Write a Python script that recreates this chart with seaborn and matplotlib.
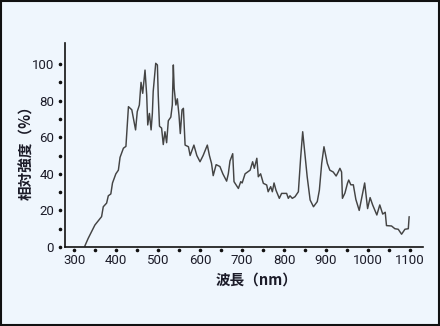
import matplotlib
matplotlib.use("Agg")
import matplotlib.pyplot as plt
import seaborn as sns
import pandas as pd
from matplotlib.patches import Rectangle

wavelength = [325, 333, 349, 365, 369, 377, 381, 387, 391, 399, 405, 409, 417, 423,
              429, 437, 446, 450, 455, 459, 463, 468.5, 472.5, 475, 479, 483, 486,
              488, 490, 494, 498, 500, 503, 508, 512, 516, 520, 524, 530, 533.5,
              536, 538, 542, 545.5, 549.5, 552.6, 556.7, 560, 564, 572, 576, 585,
              592, 599.6, 607, 617, 622, 627, 631, 638, 647, 654, 663, 667, 671,
              677.5, 680.6, 691, 696.6, 700, 707, 719, 725, 729, 735, 738.5, 744,
              750.5, 758.5, 762, 768, 772, 776, 780.7, 788.6, 794, 806, 810, 814,
              819.5, 826, 834, 839.5, 844.3, 850, 855, 862, 870, 879, 884, 889.6,
              895, 903, 909, 917, 924, 929, 933, 937, 939, 945, 951, 954, 959, 965,
              971, 979, 986, 992, 999, 1005, 1011, 1021, 1028, 1035, 1041, 1044,
              1056, 1064, 1072, 1080, 1088, 1096, 1098]
intensity = [0.5, 4.7, 12, 16.6, 22, 24, 28, 29, 35, 40, 42, 49, 54, 55,
             76.7, 75, 64, 74, 77.6, 90, 84, 96.7, 83, 66.7, 73, 64, 73,
             85, 90, 100.4, 99.5, 83, 66, 65, 56, 63, 57, 69, 71, 77.6,
             99.5, 86.7, 77.6, 81, 72, 62, 75, 75.8, 55.7, 54.8, 50, 55.7,
             50, 46.6, 50, 55.7, 50, 45.7, 39, 45, 44, 40, 36, 40, 47,
             51, 35.7, 32, 35.7, 35, 40, 42, 46.6, 43, 48.5, 38.4, 40,
             34.8, 33.9, 30.2, 33, 30.2, 35, 31, 26.6, 29.3, 29.3, 26.6, 28,
             26.6, 27.5, 30.2, 49, 63, 50, 38.4, 25.7, 22, 24.8, 31, 45.7,
             54.8, 45.7, 42, 41, 38.8, 41, 43, 41, 26.6, 29.5, 34.8, 36.6, 34, 34,
             26, 20, 28, 35, 21, 27, 23, 17.5, 23, 18, 19, 11.7,
             11.5, 10, 9.7, 7, 9.7, 10, 16.6]

x_major = [300, 400, 500, 600, 700, 800, 900, 1000, 1100]
x_dots = list(range(300, 1101, 50))
y_major = [0, 20, 40, 60, 80, 100]
y_dots = list(range(0, 101, 10))

sns.set_theme(style="white")
plt.rcParams['font.family'] = ['Roboto', 'Noto Sans CJK JP', 'DejaVu Sans']

bg = "#EFF6FD"
txt = "#1b1b28"
fig = plt.figure(figsize=(4.4, 3.26), dpi=100, facecolor=bg)
ax = fig.add_axes([0.1485, 0.2423, 0.962 - 0.1485, 0.867 - 0.2423])
ax.set_facecolor(bg)

df = pd.DataFrame({"wl": wavelength, "val": intensity})
sns.lineplot(data=df, x="wl", y="val", ax=ax, color="#444444", linewidth=1.05)

ax.set_xlim(278.6, 1131.7)
ax.set_ylim(0, 111.3)

for s in ["top", "right"]:
    ax.spines[s].set_visible(False)
for s in ["left", "bottom"]:
    ax.spines[s].set_color("#111111")
    ax.spines[s].set_linewidth(1.2)

ax.set_xticks(x_major)
ax.set_yticks(y_major)
ax.tick_params(axis="both", length=0, labelsize=9.5, colors=txt)
ax.tick_params(axis="x", pad=5)
ax.tick_params(axis="y", pad=8)

# dotted tick marks
ax.scatter(x_dots, [-0.013] * len(x_dots), s=2.5, color="#111111",
           transform=ax.get_xaxis_transform(), clip_on=False, zorder=5)
ax.scatter([-0.0148] * len(y_dots), y_dots, s=2.5, color="#111111",
           transform=ax.get_yaxis_transform(), clip_on=False, zorder=5)

ax.set_xlabel("波長（nm）", fontsize=10.5, color=txt,
              family=['Noto Sans CJK JP'], fontweight="bold")
ax.set_ylabel("相対強度（%）", fontsize=10.5, color=txt,
              family=['Noto Sans CJK JP'], fontweight="bold")
ax.xaxis.set_label_coords(0.533, -0.12)
ax.yaxis.set_label_coords(-0.087, 0.48)

fig.patches.append(Rectangle((0.002, 0.003), 0.995, 0.994, transform=fig.transFigure,
                             fill=False, edgecolor="#111111", linewidth=1.5))

fig.savefig("out.png", dpi=100, facecolor=bg)
